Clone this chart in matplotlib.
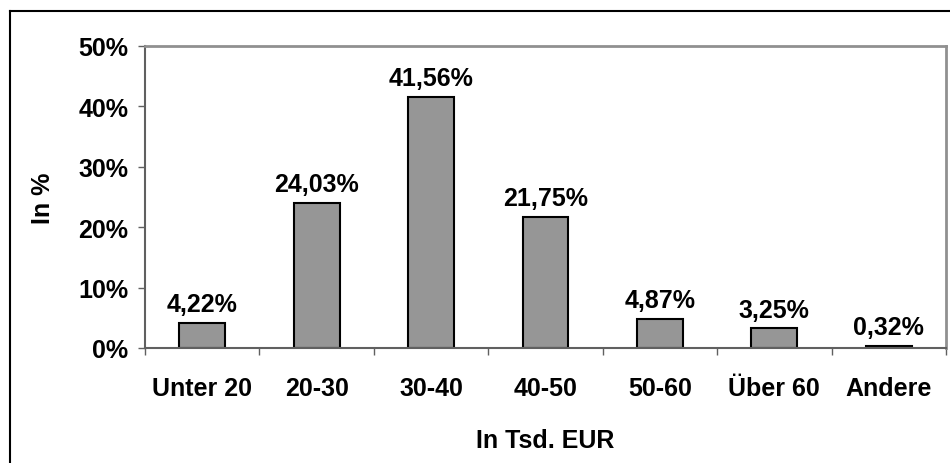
import matplotlib
matplotlib.use("Agg")
from matplotlib import pyplot as plt
from matplotlib.lines import Line2D

categories = ["Unter 20", "20-30", "30-40", "40-50", "50-60", "Über 60", "Andere"]
values = [4.22, 24.03, 41.56, 21.75, 4.87, 3.25, 0.32]
yticks = [0, 10, 20, 30, 40, 50]

plt.rcParams['font.family'] = ['Liberation Sans', 'DejaVu Sans']
plt.rcParams['font.weight'] = 'bold'
fs = 18

fig = plt.figure(figsize=(9.5, 4.64), dpi=100)
ax = fig.add_axes([145/950, 1-349/464, 801/950, 302/464])

x = list(range(len(categories)))
ax.bar(x, values, width=0.4, color='#969696', edgecolor='black', linewidth=1.5)

for xi, v in zip(x, values):
    lbl = ("%.2f%%" % v).replace('.', ',')
    ax.text(xi, v + 1.1, lbl, ha='center', va='bottom', fontsize=fs, fontweight='bold')

ax.set_xlim(-0.5, len(categories) - 0.5)
ax.set_ylim(0, 50)
ax.set_yticks(yticks)
ax.set_yticklabels(["%d%%" % t for t in yticks], fontsize=fs, fontweight='bold')
ax.set_xticks(x)
ax.set_xticklabels(categories, fontsize=fs, fontweight='bold')
ax.tick_params(axis='x', length=0, pad=20)
ax.set_xticks([i + 0.5 for i in range(-1, len(categories))], minor=True)
ax.tick_params(axis='x', which='minor', length=5, width=1, color='#606060', direction='out')
ax.tick_params(axis='y', length=5, width=1, color='#606060', direction='out', pad=7)

for s in ['top', 'right']:
    ax.spines[s].set_color('#909090')
    ax.spines[s].set_linewidth(2)
for s in ['left', 'bottom']:
    ax.spines[s].set_color('#606060')
    ax.spines[s].set_linewidth(1.5)

ax.set_xlabel("In Tsd. EUR", fontsize=fs, fontweight='bold', labelpad=20)
ax.set_ylabel("In %", fontsize=fs, fontweight='bold', labelpad=17)

# outer chart border (only left and top visible in the crop)
fig.add_artist(Line2D([10/950, 10/950], [0, 1-12/464], color='black', linewidth=1.5))
fig.add_artist(Line2D([10/950, 1], [1-12/464, 1-12/464], color='black', linewidth=1.5))

plt.savefig('out.png', dpi=100)
